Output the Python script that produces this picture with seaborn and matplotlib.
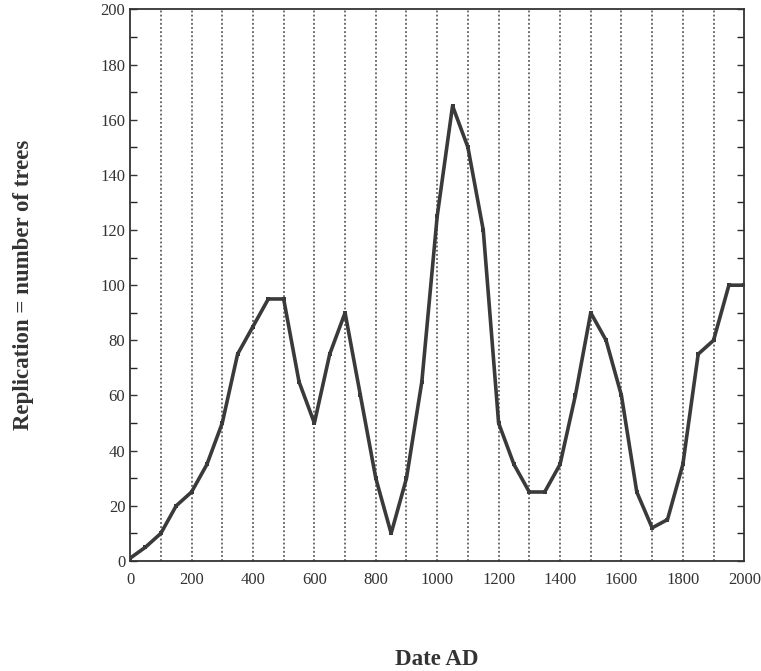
import numpy as np
import pandas as pd
import seaborn as sns
import matplotlib.pyplot as plt
from matplotlib.ticker import MultipleLocator

years = list(range(0, 2001, 50))
trees = [1, 5, 10, 20, 25, 35, 50, 75, 85, 95,
         95, 65, 50, 75, 90, 60, 30, 10, 30, 65,
         125, 165, 150, 120, 50, 35, 25, 25, 35, 60,
         90, 80, 60, 25, 12, 15, 35, 75, 80, 100,
         100]
grid_years = list(range(100, 2000, 100))

df = pd.DataFrame({'year': years, 'trees': trees})

sns.set_style('white')
plt.rcParams['font.family'] = ['Liberation Serif', 'DejaVu Serif']

fig = plt.figure(figsize=(7.61, 6.71), dpi=100)
ax = fig.add_axes([0.171, 0.164, 0.807, 0.822])

for g in grid_years:
    ax.axvline(g, color='#444444', linestyle=(0, (1.2, 1.5)), linewidth=1.1, zorder=1)

sns.lineplot(data=df, x='year', y='trees', ax=ax, color='#3a3a3a', linewidth=2.6,
             marker='s', markersize=3.5, markeredgewidth=0, zorder=3)

ax.set_xlim(0, 2000)
ax.set_ylim(0, 200)
ax.xaxis.set_major_locator(MultipleLocator(200))
ax.yaxis.set_major_locator(MultipleLocator(20))
ax.yaxis.set_minor_locator(MultipleLocator(10))
ax.tick_params(axis='y', which='both', direction='in', left=True, right=True, length=5, width=1)
ax.tick_params(axis='x', which='both', direction='in', bottom=True, length=0, pad=8)
ax.tick_params(labelsize=12, colors='#333333')
for s in ax.spines.values():
    s.set_color('#333333')
    s.set_linewidth(1.3)

ax.set_xlabel('Date AD', fontsize=16.5, fontweight='bold', color='#333333', labelpad=44)
ax.set_ylabel('Replication = number of trees', fontsize=16.5, fontweight='bold', color='#333333', labelpad=48)

plt.savefig('out.png', dpi=100)
